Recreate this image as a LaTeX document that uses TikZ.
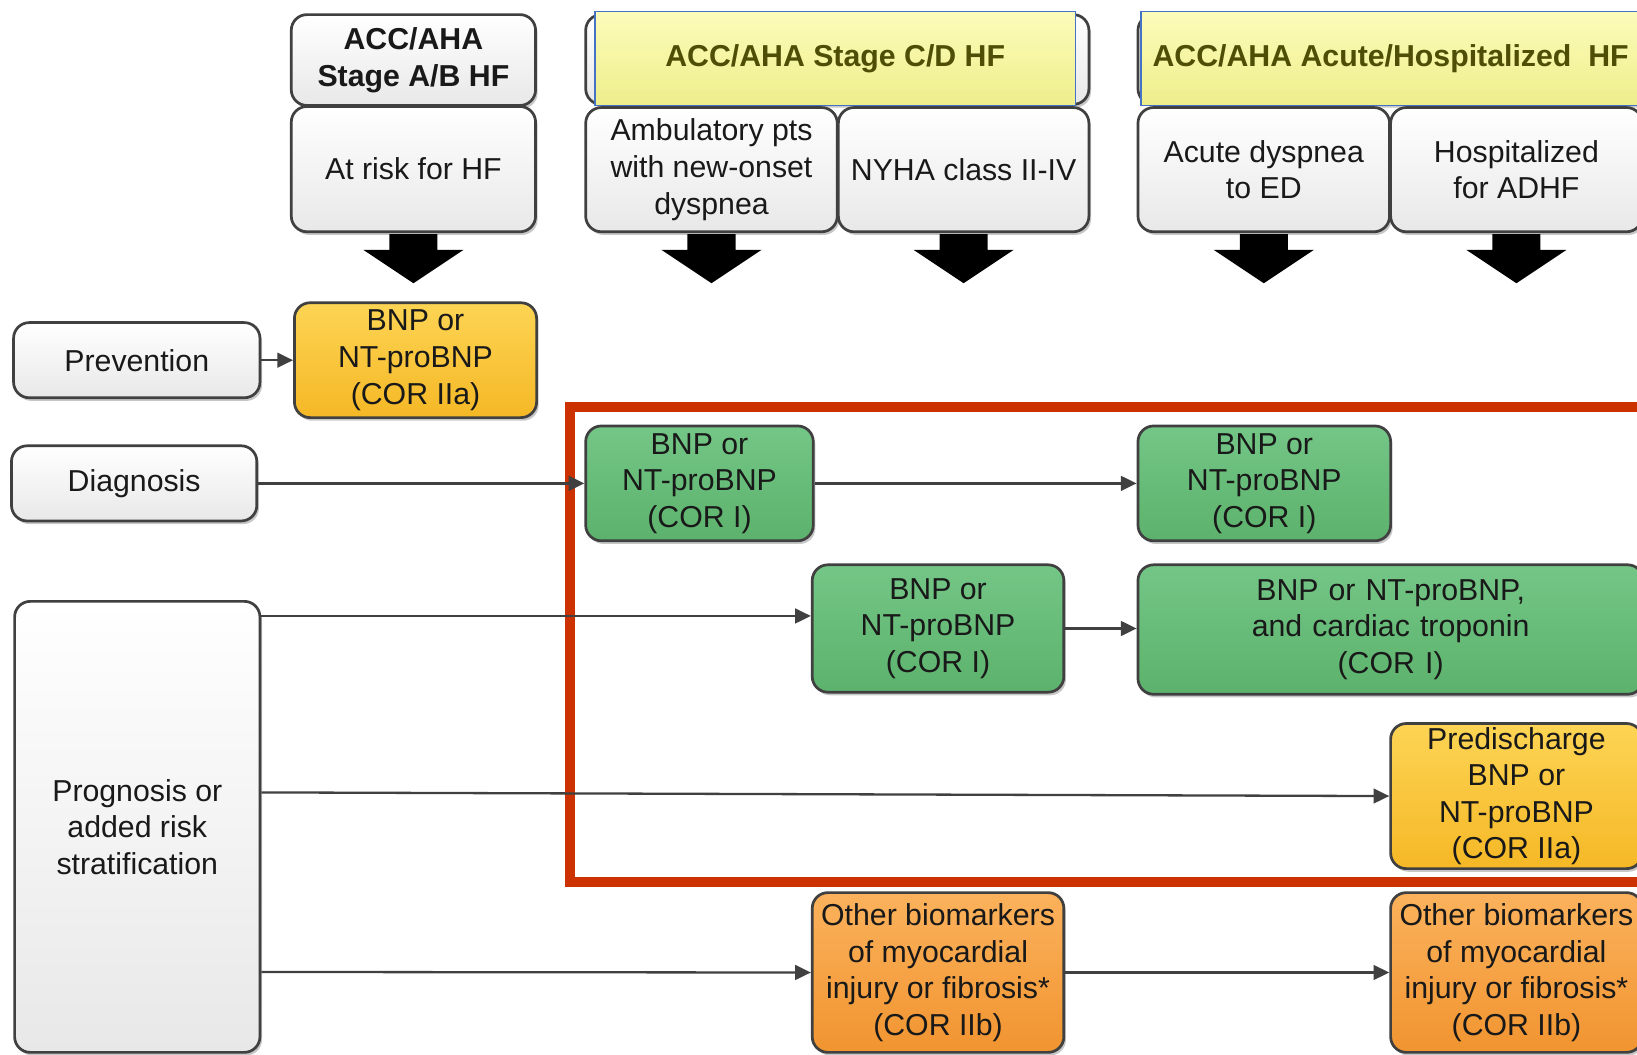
\documentclass[tikz,border=0pt]{standalone}
\usepackage{fontspec}
\setmainfont{Liberation Sans}
\usetikzlibrary{arrows.meta,shadows}

\definecolor{boxline}{RGB}{64,64,64}
\definecolor{txt}{RGB}{25,25,25}
\definecolor{greenA}{RGB}{116,198,134}
\definecolor{greenB}{RGB}{92,178,108}
\definecolor{goldA}{RGB}{253,212,84}
\definecolor{goldB}{RGB}{245,184,38}
\definecolor{orangeA}{RGB}{251,178,92}
\definecolor{orangeB}{RGB}{241,148,48}
\definecolor{paleA}{RGB}{252,252,186}
\definecolor{paleB}{RGB}{238,238,140}
\definecolor{headblue}{RGB}{68,114,196}
\definecolor{olive}{RGB}{78,78,6}
\definecolor{framered}{RGB}{204,50,0}

\tikzset{
  basebox/.style={draw=boxline, line width=2.6pt, rounded corners=15pt,
    inner sep=0pt, align=center, text=txt,
    font=\fontsize{29}{35}\selectfont,
    drop shadow={shadow xshift=2pt, shadow yshift=-3pt, opacity=0.22, fill=black}},
  greybox/.style={basebox, top color=white, bottom color=black!9},
  greenbox/.style={basebox, top color=greenA, bottom color=greenB},
  goldbox/.style={basebox, top color=goldA, bottom color=goldB},
  orangebox/.style={basebox, top color=orangeA, bottom color=orangeB},
  headback/.style={greybox, font=\fontsize{29}{35}\selectfont\bfseries},
  headpale/.style={draw=headblue, line width=1.5pt, inner sep=0pt,
    top color=paleA, bottom color=paleB, text=olive,
    font=\fontsize{29}{35}\selectfont\bfseries},
  conn/.style={draw=boxline, line width=2.2pt,
    -{Triangle[length=15pt,width=14pt]}},
  bigarrow/.pic={\fill[black] (-23,0) -- (23,0) -- (23,15) -- (48,15)
    -- (0,47) -- (-48,15) -- (-23,15) -- cycle;},
}

\begin{document}
\begin{tikzpicture}[x=1pt,y=-1pt]
\useasboundingbox (0,0) rectangle (1568,1010);
\clip (0,0) rectangle (1568,1010);
\fill[white] (0,0) rectangle (1568,1010);

% column headers and patient groups
\node[headback, minimum width=234pt, minimum height=87pt] (hab) at (396,57.5)
  {ACC/AHA\\Stage A/B HF};
\node[greybox, minimum width=234pt, minimum height=120pt] (risk) at (396,162)
  {At risk for HF};

\node[greybox, minimum width=482pt, minimum height=86pt] (hcdback) at (802,57) {};
\node[headpale, minimum width=460pt, minimum height=90pt] (hcd) at (800,56)
  {ACC/AHA Stage C/D HF};
\node[greybox, minimum width=241pt, minimum height=119pt] (amb) at (681.5,162.5)
  {Ambulatory pts\\with new-onset\\dyspnea};
\node[greybox, minimum width=240pt, minimum height=119pt] (nyha) at (923,162.5)
  {NYHA class II-IV};

\node[greybox, minimum width=500pt, minimum height=86pt] (hahback) at (1340,57) {};
\node[headpale, minimum width=478pt, minimum height=90pt] (hah) at (1332,56)
  {ACC/AHA Acute/Hospitalized\ \ HF};
\node[greybox, minimum width=241pt, minimum height=119pt] (acute) at (1210.5,162.5)
  {Acute dyspnea\\to ED};
\node[greybox, minimum width=241pt, minimum height=119pt] (hosp) at (1452.5,162.5)
  {Hospitalized\\for ADHF};

% block arrows under each group
\pic at ([yshift=-1pt]risk.south) {bigarrow};
\pic at ([yshift=-1pt]amb.south) {bigarrow};
\pic at ([yshift=-1pt]nyha.south) {bigarrow};
\pic at ([yshift=-1pt]acute.south) {bigarrow};
\pic at ([yshift=-1pt]hosp.south) {bigarrow};

% frame around the natriuretic peptide recommendations
\draw[framered, line width=10pt] (546,390) rectangle (1620,845);

% row labels
\node[greybox, minimum width=236pt, minimum height=72pt] (prev) at (131,345) {Prevention};
\node[greybox, minimum width=235pt, minimum height=72pt] (diag) at (128.5,463) {Diagnosis};
\node[greybox, minimum width=235pt, minimum height=432pt] (prog) at (131.5,792)
  {Prognosis or\\added risk\\stratification};

% biomarker recommendations
\node[goldbox, minimum width=232pt, minimum height=110pt] (bnp0) at (398,345)
  {BNP or\\NT-proBNP\\(COR IIa)};
\node[greenbox, minimum width=218pt, minimum height=110pt] (g1) at (670,463)
  {BNP or\\NT-proBNP\\(COR I)};
\node[greenbox, minimum width=242pt, minimum height=110pt] (g2) at (1211,463)
  {BNP or\\NT-proBNP\\(COR I)};
\node[greenbox, minimum width=241pt, minimum height=122pt] (g3) at (898.5,602)
  {BNP or\\NT-proBNP\\(COR I)};
\node[greenbox, minimum width=484pt, minimum height=124pt, text width=470pt] (g4) at (1332,603)
  {BNP or NT-proBNP,\\and cardiac troponin\\(COR I)};
\node[goldbox, minimum width=241pt, minimum height=139pt] (pre) at (1452.5,762.5)
  {Predischarge\\BNP or\\NT-proBNP\\(COR IIa)};
\node[orangebox, minimum width=241pt, minimum height=153pt] (o1) at (898.5,931.5)
  {Other biomarkers\\of myocardial\\injury or fibrosis*\\(COR IIb)};
\node[orangebox, minimum width=241pt, minimum height=153pt] (o2) at (1452.5,931.5)
  {Other biomarkers\\of myocardial\\injury or fibrosis*\\(COR IIb)};

% branch points on the prognosis box
\coordinate (pa) at (prog.east |- 0,590);
\coordinate (pb) at (prog.east |- 0,759);
\coordinate (pc) at (prog.east |- 0,931);

% connectors
\draw[conn] (prev.east) -- (bnp0.west);
\draw[conn] (diag.east) -- (g1.west);
\draw[conn] (g1.east) -- (g2.west);
\draw[conn] (pa) -- (g3.west |- pa);
\draw[conn] (g3.east) -- (g4.west |- g3.east);
\draw[conn] (pb) -- (pre.west);
\draw[conn] (pc) -- (o1.west);
\draw[conn] (o1.east) -- (o2.west);
\end{tikzpicture}
\end{document}
